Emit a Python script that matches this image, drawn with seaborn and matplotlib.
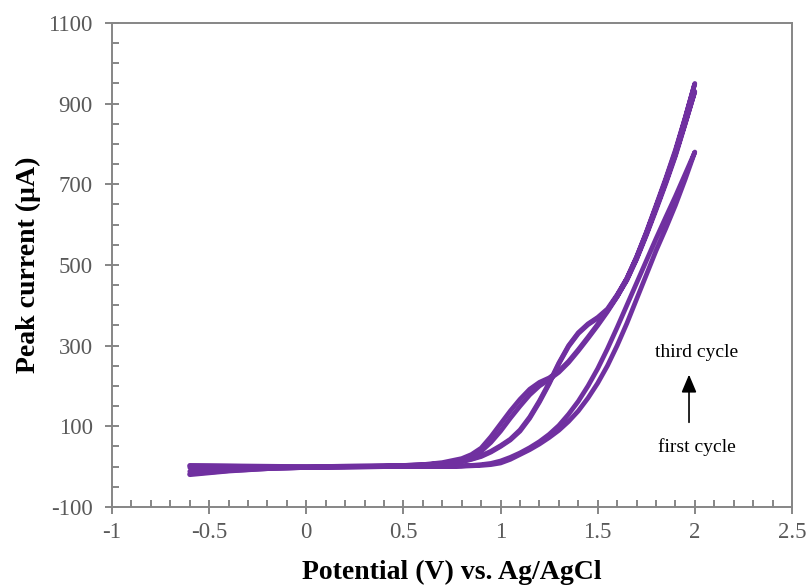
import numpy as np
import pandas as pd
import matplotlib
matplotlib.use("Agg")
import matplotlib.pyplot as plt
import seaborn as sns
from matplotlib.ticker import MultipleLocator, FuncFormatter

# Potential grid (V vs. Ag/AgCl), shared by all sweeps
potential = [-0.6, -0.4, -0.2, 0.0, 0.2, 0.4, 0.6, 0.7, 0.8, 0.85, 0.9, 0.95,
             1.0, 1.05, 1.1, 1.15, 1.2, 1.25, 1.3, 1.35, 1.4, 1.45, 1.5, 1.55,
             1.6, 1.65, 1.7, 1.75, 1.8, 1.85, 1.9, 1.95, 2.0]

# Anodic (forward) sweeps, current in µA on the grid above
fwd_cycle1 = [-12, -7, -4, -2, -1, 0, 0, 0, 1, 2, 3, 5,
              9, 18, 30, 42, 56, 72, 90, 112, 138, 170, 207, 250,
              300, 355, 415, 475, 535, 590, 648, 712, 780]
fwd_cycle2 = [-18, -10, -5, -2, 0, 1, 4, 8, 16, 25, 38, 60,
              88, 120, 150, 178, 200, 216, 234, 258, 287, 318, 350, 384,
              421, 464, 516, 576, 640, 705, 774, 851, 930]
fwd_cycle3 = [-20, -11, -5, -2, 0, 1, 5, 10, 20, 30, 46, 74,
              106, 138, 167, 192, 209, 220, 237, 261, 290, 321, 353, 387,
              424, 467, 520, 581, 647, 714, 785, 865, 950]

# Cathodic (reverse) sweeps on the same grid, traced from 2.0 V back down
rev_cycle1 = [-2, -2, -2, -1, -1, 0, 1, 1, 2, 3, 5, 8,
              14, 23, 34, 47, 62, 80, 102, 130, 162, 200, 243, 292,
              345, 400, 455, 510, 565, 618, 670, 725, 780]
rev_cycle2 = [2, 1, 0, 0, 1, 2, 4, 7, 12, 18, 25, 36,
              50, 66, 88, 120, 160, 205, 255, 298, 330, 352, 368, 388,
              422, 462, 514, 573, 636, 701, 770, 849, 930]
rev_cycle3 = [3, 2, 1, 0, 1, 2, 4, 8, 13, 19, 27, 38,
              52, 68, 91, 123, 163, 208, 257, 300, 332, 354, 370, 391,
              426, 466, 519, 579, 644, 710, 781, 863, 950]

cycles = {
    1: (fwd_cycle1, rev_cycle1),
    2: (fwd_cycle2, rev_cycle2),
    3: (fwd_cycle3, rev_cycle3),
}

rows = []
for cyc, (fwd, rev) in cycles.items():
    order = 0
    for e, i in zip(potential, fwd):
        rows.append((cyc, order, e, i)); order += 1
    for e, i in zip(potential[::-1], rev[::-1]):
        rows.append((cyc, order, e, i)); order += 1
df = pd.DataFrame(rows, columns=["cycle", "order", "potential", "current"])

sns.set_theme(style="white")
plt.rcParams["font.family"] = ["Liberation Serif", "DejaVu Serif"]
plt.rcParams["axes.unicode_minus"] = False

purple = "#7030A0"
axis_grey = "#868686"
label_grey = "#595959"

fig = plt.figure(figsize=(8.06, 5.88), dpi=100)
ax = fig.add_axes([0.139, 0.1378, 0.8436, 0.8232])

sns.lineplot(data=df, x="potential", y="current", units="cycle",
             estimator=None, sort=False, color=purple, linewidth=3.4,
             solid_capstyle="round", solid_joinstyle="round", ax=ax,
             legend=False)

ax.set_xlim(-1, 2.5)
ax.set_ylim(-100, 1100)
ax.xaxis.set_major_locator(MultipleLocator(0.5))
ax.xaxis.set_minor_locator(MultipleLocator(0.1))
ax.yaxis.set_minor_locator(MultipleLocator(50))
ax.set_yticks(np.arange(-100, 1101, 200))
ax.xaxis.set_major_formatter(FuncFormatter(lambda v, p: f"{v:g}"))
ax.yaxis.set_major_formatter(FuncFormatter(lambda v, p: f"{v:g}"))

for side in ["left", "bottom", "top", "right"]:
    ax.spines[side].set_color(axis_grey)
    ax.spines[side].set_linewidth(1.4)
    ax.spines[side].set_visible(True)

ax.tick_params(axis="both", which="major", direction="inout", length=10,
               width=1.4, color=axis_grey, labelcolor=label_grey,
               labelsize=16.5, bottom=True, left=True, top=False, right=False)
ax.tick_params(axis="both", which="minor", direction="in", length=5,
               width=1.4, color=axis_grey, bottom=True, left=True,
               top=False, right=False)
ax.tick_params(axis="y", which="major", pad=9)
ax.tick_params(axis="x", which="major", pad=6)

ax.set_xlabel("Potential (V) vs. Ag/AgCl", fontsize=20, fontweight="bold",
              color="black", labelpad=12)
ax.set_ylabel("Peak current (µA)", fontsize=20, fontweight="bold",
              color="black", labelpad=5)

ax.text(2.01, 282, "third cycle", ha="center", va="center", fontsize=14,
        color="black")
ax.text(2.01, 49, "first cycle", ha="center", va="center", fontsize=14,
        color="black")
ax.annotate("", xy=(1.97, 235), xytext=(1.97, 103),
            arrowprops=dict(arrowstyle="-|>,head_length=0.9,head_width=0.38",
                            color="black", lw=1.2))

fig.savefig("out.png", dpi=100, facecolor="white")
